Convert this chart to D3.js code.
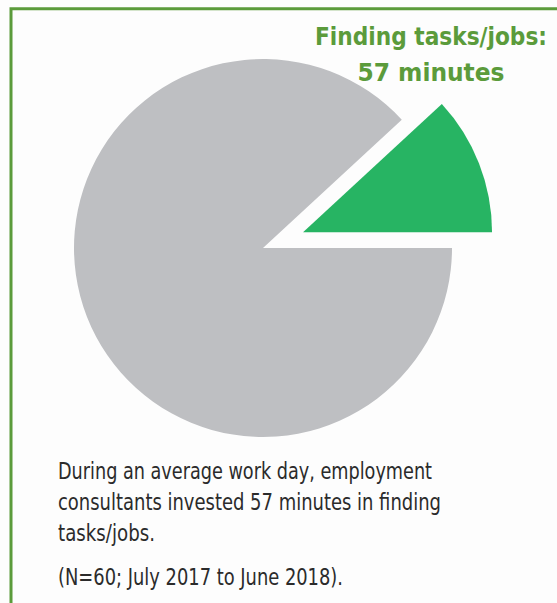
<!DOCTYPE html>
<html>
<head>
<meta charset="utf-8">
<script src="https://cdn.jsdelivr.net/npm/d3@7"></script>
<style>
html,body{margin:0;padding:0;background:#fdfdfd;}
svg{display:block;}
</style>
</head>
<body>
<svg id="chart" width="557" height="603"></svg>
<script>
const categories = ["Finding tasks/jobs", "Other work"];
const minutes = [57, 423];
const colors = ["#27b463", "#bebfc2"];
const labelLines = ["Finding tasks/jobs:", "57 minutes"];
const captionLines = [
  "During an average work day, employment",
  "consultants invested 57 minutes in finding",
  "tasks/jobs.",
  "(N=60; July 2017 to June 2018)."
];

const svg = d3.select("#chart");
const W = 557, H = 603;

// frame
svg.append("path")
  .attr("d", `M11,${H} L11,8.7 L${W},8.7`)
  .attr("fill", "none")
  .attr("stroke", "#5b9b3b")
  .attr("stroke-width", 3);

const cx = 263, cy = 248, R = 189, explode = 43;
const total = d3.sum(minutes);
const startA = Math.PI / 2 - (minutes[0] / total) * 2 * Math.PI;

const pie = d3.pie().sort(null).startAngle(startA).endAngle(startA + 2 * Math.PI);
const arcs = pie(minutes);
const arc = d3.arc().innerRadius(0).outerRadius(R);

const g = svg.append("g").attr("transform", `translate(${cx},${cy})`);
g.selectAll("path").data(arcs).enter().append("path")
  .attr("d", arc)
  .attr("fill", (d, i) => colors[i])
  .attr("transform", (d, i) => {
    if (i !== 0) return null;
    const mid = (d.startAngle + d.endAngle) / 2;
    return `translate(${Math.sin(mid) * explode},${-Math.cos(mid) * explode})`;
  });

// label
const labelX = 431;
const labelY = [45, 81];
const labelW = [232, 147];
svg.selectAll("text.lbl").data(labelLines).enter().append("text")
  .attr("class", "lbl")
  .attr("x", labelX)
  .attr("y", (d, i) => labelY[i])
  .attr("text-anchor", "middle")
  .attr("font-family", "'Liberation Sans Narrow', 'DejaVu Sans Condensed', sans-serif")
  .attr("font-weight", "bold")
  .attr("font-size", 24)
  .attr("textLength", (d, i) => labelW[i])
  .attr("lengthAdjust", "spacingAndGlyphs")
  .attr("fill", "#5b9b3b")
  .text(d => d);

// caption
const capY = [479, 510, 541, 585];
const capW = [374, 383, 97, 285];
svg.selectAll("text.cap").data(captionLines).enter().append("text")
  .attr("class", "cap")
  .attr("x", 58)
  .attr("y", (d, i) => capY[i])
  .attr("font-family", "'Liberation Sans Narrow', 'DejaVu Sans Condensed', sans-serif")
  .attr("font-size", 23)
  .attr("textLength", (d, i) => capW[i])
  .attr("lengthAdjust", "spacingAndGlyphs")
  .attr("fill", "#2b2b2b")
  .text(d => d);
</script>
</body>
</html>
